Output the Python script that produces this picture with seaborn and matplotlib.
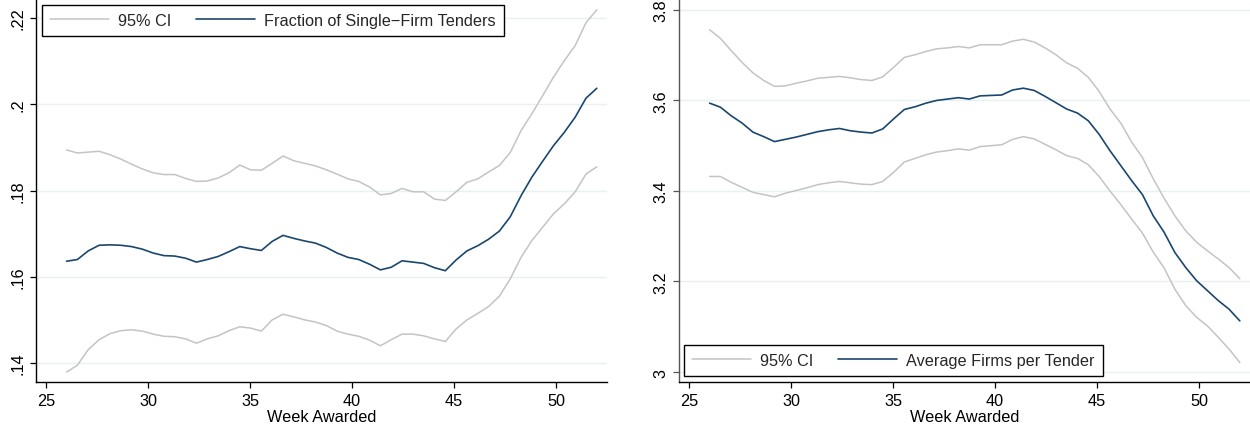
import numpy as np
import pandas as pd
import matplotlib
matplotlib.use("Agg")
import matplotlib.pyplot as plt
import seaborn as sns

# ---- data (50-point local polynomial grid, weeks 26..52) ----
weeks = np.linspace(26, 52, 50)

single_mid = [0.1636, 0.1640, 0.1660, 0.1673, 0.1674, 0.1673, 0.1670, 0.1664, 0.1655, 0.1649,
              0.1648, 0.1643, 0.1634, 0.1640, 0.1647, 0.1658, 0.1670, 0.1665, 0.1661, 0.1682,
              0.1696, 0.1689, 0.1683, 0.1678, 0.1668, 0.1655, 0.1645, 0.1640, 0.1629, 0.1616,
              0.1622, 0.1637, 0.1634, 0.1631, 0.1621, 0.1614, 0.1639, 0.1660, 0.1672, 0.1687,
              0.1706, 0.1739, 0.1788, 0.1831, 0.1868, 0.1904, 0.1935, 0.1970, 0.2014, 0.2037]
single_hi = [0.1894, 0.1887, 0.1889, 0.1891, 0.1883, 0.1873, 0.1861, 0.1850, 0.1841, 0.1837,
             0.1837, 0.1828, 0.1821, 0.1822, 0.1829, 0.1841, 0.1859, 0.1848, 0.1847, 0.1863,
             0.1880, 0.1869, 0.1863, 0.1857, 0.1848, 0.1838, 0.1827, 0.1821, 0.1808, 0.1790,
             0.1793, 0.1805, 0.1797, 0.1797, 0.1780, 0.1777, 0.1797, 0.1819, 0.1827, 0.1843,
             0.1858, 0.1888, 0.1939, 0.1978, 0.2020, 0.2063, 0.2101, 0.2136, 0.2189, 0.2219]
single_lo = [0.1379, 0.1395, 0.1431, 0.1454, 0.1468, 0.1475, 0.1477, 0.1474, 0.1467, 0.1462,
             0.1461, 0.1456, 0.1446, 0.1456, 0.1463, 0.1475, 0.1484, 0.1481, 0.1474, 0.1500,
             0.1513, 0.1507, 0.1500, 0.1495, 0.1487, 0.1474, 0.1467, 0.1462, 0.1453, 0.1440,
             0.1454, 0.1467, 0.1467, 0.1463, 0.1456, 0.1450, 0.1479, 0.1500, 0.1515, 0.1531,
             0.1555, 0.1595, 0.1645, 0.1684, 0.1715, 0.1746, 0.1769, 0.1797, 0.1838, 0.1855]

firms_mid = [3.594, 3.585, 3.566, 3.550, 3.530, 3.520, 3.509, 3.514, 3.519, 3.525,
             3.531, 3.535, 3.538, 3.533, 3.530, 3.528, 3.537, 3.559, 3.580, 3.586,
             3.594, 3.600, 3.603, 3.606, 3.603, 3.610, 3.611, 3.612, 3.623, 3.627,
             3.622, 3.609, 3.595, 3.581, 3.572, 3.555, 3.525, 3.489, 3.456, 3.423,
             3.392, 3.345, 3.309, 3.264, 3.231, 3.202, 3.180, 3.158, 3.139, 3.113]
firms_hi = [3.756, 3.737, 3.710, 3.684, 3.661, 3.644, 3.631, 3.632, 3.638, 3.643,
            3.649, 3.651, 3.653, 3.650, 3.646, 3.644, 3.652, 3.673, 3.695, 3.701,
            3.708, 3.714, 3.716, 3.719, 3.716, 3.723, 3.723, 3.723, 3.731, 3.735,
            3.729, 3.716, 3.701, 3.683, 3.671, 3.651, 3.620, 3.581, 3.550, 3.508,
            3.474, 3.427, 3.384, 3.345, 3.312, 3.287, 3.268, 3.250, 3.231, 3.206]
firms_lo = [3.432, 3.432, 3.419, 3.408, 3.397, 3.392, 3.387, 3.395, 3.401, 3.407,
            3.414, 3.418, 3.421, 3.418, 3.415, 3.414, 3.421, 3.441, 3.464, 3.472,
            3.480, 3.486, 3.489, 3.493, 3.490, 3.498, 3.500, 3.502, 3.514, 3.520,
            3.515, 3.503, 3.491, 3.478, 3.472, 3.458, 3.432, 3.400, 3.370, 3.338,
            3.307, 3.265, 3.230, 3.183, 3.147, 3.121, 3.102, 3.077, 3.051, 3.021]

x_ticks = [25, 30, 35, 40, 45, 50]
left_yticks = [0.14, 0.16, 0.18, 0.20, 0.22]
left_ylabels = [".14", ".16", ".18", ".2", ".22"]
right_yticks = [3.0, 3.2, 3.4, 3.6, 3.8]
right_ylabels = ["3", "3.2", "3.4", "3.6", "3.8"]
x_label = "Week Awarded"
ci_label = "95% CI"
left_label = "Fraction of Single\u2212Firm Tenders"
right_label = "Average Firms per Tender"

# ---- style ----
sns.set_theme(style="white")
plt.rcParams["font.family"] = ["Liberation Sans", "DejaVu Sans"]
FS = 11.7
NAVY = "#1a476f"
GRAY = "#c4c4c4"
GRID = "#e8f0f2"

fig = plt.figure(figsize=(12.5, 4.27), dpi=100)
W, H = 1250, 427
ax1 = fig.add_axes([36 / W, 44 / H, 571 / W, 383 / H])
ax2 = fig.add_axes([679 / W, 44 / H, 571 / W, 383 / H])


def draw(ax, mid, hi, lo, label, yticks, ylabels, ylim, spine_col):
    df = pd.DataFrame({"week": weeks, "mid": mid, "hi": hi, "lo": lo})
    sns.lineplot(data=df, x="week", y="hi", ax=ax, color=GRAY, lw=1.1, label=ci_label)
    sns.lineplot(data=df, x="week", y="lo", ax=ax, color=GRAY, lw=1.1, label="_nolegend_")
    sns.lineplot(data=df, x="week", y="mid", ax=ax, color=NAVY, lw=1.2, label=label)
    ax.set_xlim(24.5, 52.5)
    ax.set_ylim(*ylim)
    ax.set_xticks(x_ticks)
    ax.set_xticklabels([str(t) for t in x_ticks], fontsize=FS)
    ax.set_yticks(yticks)
    ax.set_yticklabels(ylabels, fontsize=FS, rotation=90, va="center")
    ax.set_xlabel(x_label, fontsize=FS, labelpad=1, color="black")
    ax.set_ylabel("")
    ax.yaxis.grid(True, color=GRID, lw=1.0)
    ax.xaxis.grid(False)
    ax.set_axisbelow(True)
    for s in ["top", "right"]:
        ax.spines[s].set_visible(False)
    ax.spines["bottom"].set_color("black")
    ax.spines["left"].set_color(spine_col)
    ax.spines["bottom"].set_linewidth(1.0)
    ax.spines["left"].set_linewidth(1.0)
    ax.tick_params(axis="both", direction="out", length=4.2, width=0.9, pad=3.5,
                   colors="black", labelsize=FS, bottom=True, left=True)
    ax.tick_params(axis="y", colors=spine_col, labelcolor="black")


draw(ax1, single_mid, single_hi, single_lo, left_label, left_yticks, left_ylabels,
     (0.1356, 0.2244), "black")
draw(ax2, firms_mid, firms_hi, firms_lo, right_label, right_yticks, right_ylabels,
     (2.978, 3.824), "#555555")

for ax, loc, anchor in [(ax1, "upper left", (6 / 571, 1 - 6 / 383)),
                        (ax2, "lower left", (5 / 571, 6 / 383))]:
    handles, labels = ax.get_legend_handles_labels()
    leg = ax.legend(handles, labels, loc=loc, bbox_to_anchor=anchor, ncol=2,
                    fontsize=FS, frameon=True, fancybox=False, borderaxespad=0,
                    handlelength=3.6, handletextpad=0.6, columnspacing=1.5,
                    borderpad=0.5)
    fr = leg.get_frame()
    fr.set_edgecolor("black")
    fr.set_linewidth(1.0)
    fr.set_facecolor("white")
    fr.set_alpha(1)

fig.savefig("out.png", dpi=100)
